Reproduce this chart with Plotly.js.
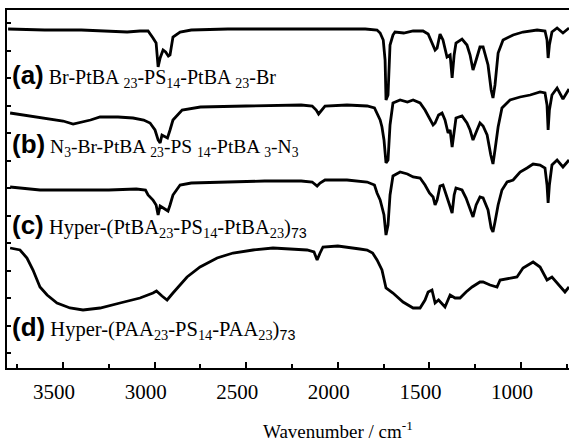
<!DOCTYPE html>
<html>
<head>
<meta charset="utf-8">
<script src="https://cdn.plot.ly/plotly-3.0.1.min.js"></script>
<style>html,body{margin:0;padding:0;background:#fff;}#chart{width:569px;height:442px;}</style>
</head>
<body>
<div id="chart"></div>
<script>
// Wavenumber (cm-1) and offset transmittance (arbitrary units)
const wnA = [3800,3600,3400,3250,3150,3080,3036,3009,2992,2981,2970,2954,2940,2925,2916,2900,2861,2800,2600,2400,2200,2000,1850,1786,1769,1752,1742,1737,1726,1715,1699,1688,1640,1589,1535,1507,1480,1469,1458,1442,1426,1404,1387,1376,1365,1355,1322,1295,1278,1262,1245,1224,1207,1180,1163,1153,1142,1125,1098,1043,989,912,869,858,852,845,831,803,771,738];
const tA  = [339,338,338,337,336,337,337,330,325,301,310,318,316,312,313,331,336,338,339,339,339,339,339,338,335,328,308,268,273,323,333,336,335,337,337,334,323,318,320,334,328,311,313,290,313,325,329,323,313,298,308,321,321,303,278,270,283,315,328,333,336,338,337,328,310,323,336,340,335,340];

const wnB = [3789,3650,3500,3445,3350,3298,3200,3118,3060,3025,2998,2981,2970,2960,2950,2930,2916,2900,2850,2750,2500,2300,2200,2140,2118,2105,2090,2070,1950,1840,1800,1786,1769,1759,1748,1737,1726,1715,1699,1660,1620,1589,1551,1524,1500,1480,1469,1450,1431,1415,1398,1387,1376,1365,1355,1322,1295,1278,1262,1240,1224,1207,1185,1165,1153,1142,1125,1104,1060,1005,950,896,869,858,852,845,831,803,771,738];
const tB  = [255,251,247,244,248,251,251,250,248,245,238,228,225,233,232,230,238,248,258,261,262,263,263,262,258,254,258,262,263,262,260,255,248,241,228,205,208,243,265,268,266,268,265,258,250,243,245,253,255,248,235,238,221,238,250,252,245,238,228,238,245,242,233,213,204,218,241,260,268,271,273,276,275,263,238,258,273,280,269,279];

const wnC = [3789,3626,3400,3250,3100,3050,3036,3009,2992,2981,2970,2954,2940,2927,2916,2900,2861,2800,2600,2400,2200,2140,2113,2097,2070,1950,1840,1800,1786,1769,1759,1748,1737,1726,1715,1699,1660,1620,1589,1551,1524,1500,1480,1469,1458,1442,1426,1410,1390,1376,1365,1355,1322,1300,1278,1262,1245,1224,1207,1180,1163,1153,1142,1125,1104,1076,1043,1005,967,934,896,869,858,852,845,831,803,771,738];
const tC  = [181,178,178,178,179,178,173,168,163,153,162,160,158,157,163,173,183,185,186,187,187,186,182,185,188,188,186,183,175,168,161,153,133,143,173,192,196,194,191,190,183,175,171,163,168,182,183,173,163,155,173,180,178,170,160,151,163,171,170,158,140,136,146,163,178,186,188,196,200,204,203,200,183,165,183,203,208,201,208];

const wnD = [3789,3735,3697,3664,3626,3587,3533,3462,3391,3298,3189,3080,3009,2990,2960,2932,2900,2850,2823,2752,2659,2572,2463,2354,2261,2168,2130,2113,2097,2081,2000,1950,1880,1840,1810,1786,1759,1737,1699,1644,1589,1551,1524,1507,1486,1469,1450,1415,1400,1387,1360,1333,1300,1267,1224,1207,1169,1131,1114,1060,1022,989,934,896,858,831,787,760,738];
const tD  = [120,118,110,98,81,73,65,60,58,60,65,70,75,77,72,68,75,85,91,101,110,115,118,120,119,118,116,108,115,121,122,121,119,118,115,108,98,80,75,66,60,60,68,76,78,65,68,61,68,73,70,70,76,81,86,86,83,81,88,90,91,100,106,101,88,91,81,76,81];

const xTicks = [3500,3000,2500,2000,1500,1000];

const SERIF = '"Liberation Serif", "Times New Roman", Times, serif';

const traceStyle = {type:'scatter', mode:'lines', line:{color:'#000', width:2.8}, hoverinfo:'skip', showlegend:false};
const data = [
  Object.assign({x:wnA, y:tA}, traceStyle),
  Object.assign({x:wnB, y:tB}, traceStyle),
  Object.assign({x:wnC, y:tC}, traceStyle),
  Object.assign({x:wnD, y:tD}, traceStyle)
];

// pixel -> paper helpers for annotation placement
const PL = 7, PW = 562, PT = 10, PH = 358;
const px = v => (v - PL) / PW;
const py = v => (PT + PH - v) / PH;
const lab = s => "<span style=\"font-family:'Liberation Sans',Arial,sans-serif;font-weight:bold;font-size:26px\">" + s + '</span>';
const sans = s => "<span style=\"font-family:'Liberation Sans',Arial,sans-serif\">" + s + '</span>';

const labels = [
  {t: lab('(a)') + ' Br-PtBA <sub>23</sub>-PS<sub>14</sub>-PtBA <sub>23</sub>-Br', y: 76, s: 20},
  {t: lab('(b)') + ' N<sub>3</sub>-Br-PtBA <sub>23</sub>-PS <sub>14</sub>-PtBA <sub>3</sub>-N<sub>3</sub>', y: 144, s: 19.5},
  {t: lab('(c)') + ' Hyper-(PtBA<sub>23</sub>-PS<sub>14</sub>-PtBA<sub>23</sub>)<sub>' + sans('73') + '</sub>', y: 225, s: 20.5},
  {t: lab('(d)') + ' Hyper-(PAA<sub>23</sub>-PS<sub>14</sub>-PAA<sub>23</sub>)<sub>' + sans('73') + '</sub>', y: 327, s: 20.5}
];

const annotations = labels.map(l => ({
  xref:'paper', yref:'paper', x: px(10), y: py(l.y), xanchor:'left', yanchor:'middle',
  text: l.t, showarrow:false, font:{family:SERIF, size:l.s, color:'#000'}
}));
annotations.push({
  xref:'paper', yref:'paper', x: px(338), y: py(430), xanchor:'center', yanchor:'middle',
  text:'Wavenumber / cm<sup>-1</sup>', showarrow:false,
  font:{family:SERIF, size:19, color:'#000'}
});

const layout = {
  width:569, height:442,
  margin:{l:PL, r:0, t:PT, b:442-PT-PH, pad:0},
  paper_bgcolor:'#fff', plot_bgcolor:'#fff',
  font:{family:SERIF, color:'#000'},
  showlegend:false,
  xaxis:{
    range:[3806, 738], autorange:false,
    tickmode:'array', tickvals:xTicks, ticktext:xTicks.map(String),
    ticks:'inside', ticklen:6, tickwidth:2, tickcolor:'#000',
    minor:{ticks:'inside', ticklen:4, tickwidth:2, tickcolor:'#000', dtick:250, tick0:0, showgrid:false},
    showline:true, linewidth:2, linecolor:'#000', mirror:true,
    showgrid:false, zeroline:false,
    tickfont:{family:SERIF, size:21, color:'#000'},
    ticklabelshift:9, ticklabelstandoff:4
  },
  yaxis:{
    range:[0, 358], autorange:false,
    tick0:15, dtick:27.5,
    ticks:'inside', ticklen:4, tickwidth:2, tickcolor:'#000',
    showticklabels:false,
    showline:true, linewidth:2, linecolor:'#000', mirror:false,
    showgrid:false, zeroline:false
  },
  annotations: annotations
};

Plotly.newPlot('chart', data, layout, {staticPlot:true, displayModeBar:false});
</script>
</body>
</html>
